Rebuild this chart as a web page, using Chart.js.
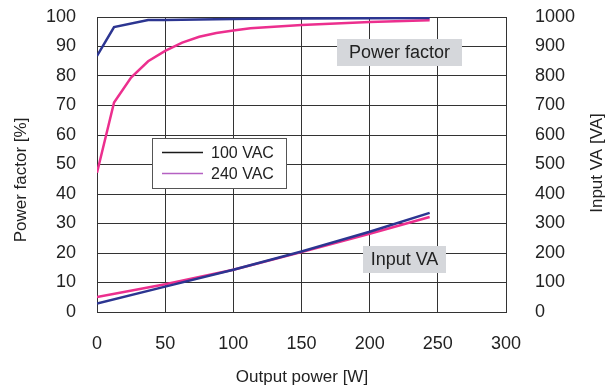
<!DOCTYPE html>
<html>
<head>
<meta charset="utf-8">
<script src="https://cdn.jsdelivr.net/npm/chart.js@4"></script>
<style>
  body { margin: 0; background: #fff; }
  canvas { display: block; }
</style>
</head>
<body>
<canvas id="pfChart" width="613" height="392"></canvas>
<script>
// Power factor [%] vs output power [W]
const pfWatts100 = [0, 12.5, 37.5, 50, 112, 150, 200, 244];
const pf100 = [86.8, 96.6, 99.0, 99.0, 99.4, 99.5, 99.6, 99.7];
const pfWatts240 = [0, 12.5, 25, 37.5, 50, 62.5, 75, 87.5, 100, 112.5, 150, 200, 244];
const pf240 = [47.2, 71.0, 79.5, 85.0, 88.5, 91.3, 93.3, 94.6, 95.4, 96.2, 97.3, 98.3, 98.9];

// Input VA [VA] vs output power [W]
const vaWatts = [0, 50, 100, 150, 200, 244];
const va100 = [29, 86, 143, 205, 272, 336];
const va240 = [51, 94, 143, 203, 265, 322];

const xTicks = [0, 50, 100, 150, 200, 250, 300];
const legendNames = ["100 VAC", "240 VAC"];

const FONT = "'Liberation Sans', Arial, sans-serif";
const BLUE = "#2c3591";
const PINK = "#ec2f8e";
const GRID = "#333";

const toPoints = (xs, ys) => xs.map((x, i) => ({ x: x, y: ys[i] }));

// fixed axis sizes, and no extra room reserved for the end labels
const fixSize = (w, h) => (scale) => {
    if (w) scale.width = w;
    if (h) scale.height = h;
    scale.paddingTop = 0;
    scale.paddingBottom = 0;
    scale.paddingLeft = 0;
    scale.paddingRight = 0;
};

// axis titles, the two boxed labels and the legend box
const extras = {
    id: "extras",
    afterDatasetsDraw(chart) {
        const ctx = chart.ctx;
        ctx.save();
        ctx.fillStyle = "#222";

        // axis titles
        ctx.font = "17px " + FONT;
        ctx.textAlign = "center";
        ctx.textBaseline = "middle";
        ctx.fillText("Output power [W]", 302, 377);
        ctx.save();
        ctx.translate(21, 180);
        ctx.rotate(-Math.PI / 2);
        ctx.fillText("Power factor [%]", 0, 0);
        ctx.restore();
        ctx.save();
        ctx.translate(597, 163);
        ctx.rotate(-Math.PI / 2);
        ctx.fillText("Input VA [VA]", 0, 0);
        ctx.restore();

        // boxed curve labels
        const boxLabel = (text, x, y, w, h) => {
            ctx.fillStyle = "#d5d7db";
            ctx.fillRect(x, y, w, h);
            ctx.fillStyle = "#222";
            ctx.font = "18px " + FONT;
            ctx.textAlign = "center";
            ctx.textBaseline = "middle";
            ctx.fillText(text, x + w / 2, y + h / 2 + 1);
        };
        boxLabel("Power factor", 337, 39, 125, 27);
        boxLabel("Input VA", 363, 246, 83, 27);

        // legend
        ctx.fillStyle = "#fff";
        ctx.fillRect(152.5, 138.5, 134, 50);
        ctx.strokeStyle = "#555";
        ctx.lineWidth = 1;
        ctx.strokeRect(152.5, 138.5, 134, 50);
        const legendColors = ["#1a1a1a", "#b561c2"];
        legendNames.forEach((name, i) => {
            const y = 152.5 + i * 21;
            ctx.strokeStyle = legendColors[i];
            ctx.lineWidth = 1.5;
            ctx.beginPath();
            ctx.moveTo(162, y);
            ctx.lineTo(203, y);
            ctx.stroke();
            ctx.fillStyle = "#222";
            ctx.font = "16px " + FONT;
            ctx.textAlign = "left";
            ctx.textBaseline = "middle";
            ctx.fillText(name, 211, y + 1);
        });
        ctx.restore();
    }
};

const lineStyle = (color) => ({
    borderColor: color,
    backgroundColor: color,
    borderWidth: 2.5,
    pointRadius: 0,
    tension: 0,
    fill: false
});

new Chart(document.getElementById("pfChart").getContext("2d"), {
    type: "line",
    data: {
        datasets: [
            { label: "PF 100 VAC", data: toPoints(pfWatts100, pf100), yAxisID: "y", ...lineStyle(BLUE) },
            { label: "PF 240 VAC", data: toPoints(pfWatts240, pf240), yAxisID: "y", ...lineStyle(PINK) },
            { label: "VA 100 VAC", data: toPoints(vaWatts, va100), yAxisID: "y1", ...lineStyle(BLUE) },
            { label: "VA 240 VAC", data: toPoints(vaWatts, va240), yAxisID: "y1", ...lineStyle(PINK) }
        ]
    },
    options: {
        responsive: false,
        animation: false,
        layout: { padding: { top: 17, left: 0, right: 0, bottom: 0 } },
        plugins: {
            legend: { display: false },
            tooltip: { enabled: false }
        },
        scales: {
            x: {
                type: "linear",
                min: 0,
                max: 300,
                afterFit: fixSize(0, 80),
                afterBuildTicks: (scale) => { scale.ticks = xTicks.map(v => ({ value: v })); },
                grid: { color: GRID, lineWidth: 1, drawTicks: false },
                border: { color: GRID, width: 1 },
                ticks: { color: "#222", padding: 21, font: { family: FONT, size: 18 } }
            },
            y: {
                position: "left",
                min: 0,
                max: 100,
                afterFit: fixSize(97, 0),
                grid: { color: GRID, lineWidth: 1, drawTicks: false },
                border: { color: GRID, width: 1 },
                ticks: { stepSize: 10, color: "#222", padding: 21, font: { family: FONT, size: 18 } }
            },
            y1: {
                position: "right",
                min: 0,
                max: 1000,
                afterFit: fixSize(107, 0),
                grid: { display: false },
                border: { display: false },
                ticks: {
                    stepSize: 100,
                    color: "#222",
                    padding: 21,
                    font: { family: FONT, size: 18 },
                    callback: (v) => String(v)
                }
            }
        }
    },
    plugins: [extras]
});
</script>
</body>
</html>
